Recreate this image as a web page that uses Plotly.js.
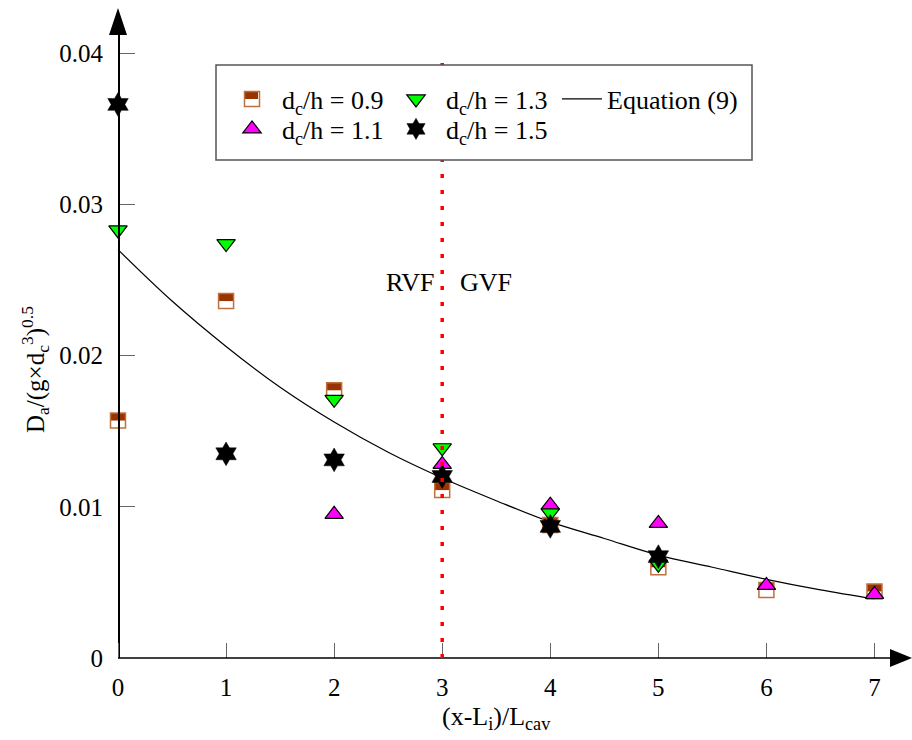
<!DOCTYPE html>
<html>
<head>
<meta charset="utf-8">
<script src="https://cdn.plot.ly/plotly-3.0.1.min.js"></script>
<style>html,body{margin:0;padding:0;background:#fff;}#chart{width:912px;height:740px;}</style>
</head>
<body>
<div id="chart"></div>
<script>
// ---- data ----
const xTicks = [0, 1, 2, 3, 4, 5, 6, 7];
const yTicks = [0, 0.01, 0.02, 0.03, 0.04];
const yTickText = ["0", "0.01", "0.02", "0.03", "0.04"];

const x09 = [0, 1, 2, 3, 4, 5, 6, 7];
const y09 = [0.0157, 0.0236, 0.0177, 0.0111, 0.0088, 0.0060, 0.0045, 0.0044];

const x11 = [2, 3, 4, 5, 6, 7];
const y11 = [0.0095, 0.0128, 0.0101, 0.0089, 0.0048, 0.0042];

const x13 = [0, 1, 2, 3, 4, 5];
const y13 = [0.0283, 0.0274, 0.0171, 0.0139, 0.0096, 0.0062];

const x15 = [0, 1, 2, 3, 4, 5];
const y15 = [0.0366, 0.0135, 0.0131, 0.0120, 0.0087, 0.0067];

const xEq = [0, 0.5, 1, 1.5, 2, 2.5, 3, 3.5, 4, 4.5, 5, 5.5, 6, 6.5, 7];
const yEq = [0.0270, 0.0236, 0.0206, 0.0179, 0.0156, 0.0136, 0.0119, 0.0104, 0.0090, 0.0079, 0.0068, 0.0060, 0.0052, 0.0045, 0.0039];

const names = ["d<sub>c</sub>/h = 0.9", "d<sub>c</sub>/h = 1.1", "d<sub>c</sub>/h = 1.3", "d<sub>c</sub>/h = 1.5", "Equation (9)"];
const regimeX = 3;

// ---- styling ----
const FONT = "Liberation Serif";
const BROWN = "#993300";
const BROWN_EDGE = "#c0703f";

const traces = [
  {x: xEq, y: yEq, mode: "lines", name: names[4], legend: "legend5",
   line: {color: "#000", width: 1.2, shape: "spline"}},
  {x: x09, y: y09, mode: "markers", name: names[0], legend: "legend", cliponaxis: false,
   marker: {symbol: "square-open", size: 15, color: BROWN_EDGE, line: {width: 1.5, color: BROWN_EDGE}}},
  {x: x11, y: y11, mode: "markers", name: names[1], legend: "legend2", cliponaxis: false,
   marker: {symbol: "triangle-up", size: 16, color: "#ff00ff", line: {width: 1.2, color: "#000"}}},
  {x: x13, y: y13, mode: "markers", name: names[2], legend: "legend3", cliponaxis: false,
   marker: {symbol: "triangle-down", size: 16, color: "#00ff00", line: {width: 1.2, color: "#000"}}},
  {x: x15, y: y15, mode: "markers", name: names[3], legend: "legend4", cliponaxis: false,
   marker: {symbol: "hexagram", size: 18, color: "#000", line: {width: 0.5, color: "#000"}}}
];

// plot area in pixels; x = 0 sits at pixel 118, 108.07 px per unit, 15125 px per unit of y
const PL = 100, PR = 890, T = 35, B = 658, X0PX = 118;
const W = PR - PL, H = B - T;
const XS = 108.07, YS = 15125;
const px = v => (v - PL) / W;
const py = v => (B - v) / H;

const shapes = [];
// half-filled squares for the d_c/h = 0.9 series
x09.forEach((xv, i) => {
  shapes.push({type: "rect", layer: "between", xref: "x", yref: "y", xsizemode: "pixel", ysizemode: "pixel",
    xanchor: xv, yanchor: y09[i], x0: -7.5, x1: 7.5, y0: -7.5, y1: 7.5, fillcolor: "#fff", line: {width: 0}});
  shapes.push({type: "rect", layer: "between", xref: "x", yref: "y", xsizemode: "pixel", ysizemode: "pixel",
    xanchor: xv, yanchor: y09[i], x0: -7.5, x1: 7.5, y0: 0, y1: 7.5, fillcolor: BROWN, line: {width: 0}});
});
// x axis line starting at x = 0
shapes.push({type: "line", layer: "above", xref: "x", yref: "paper", x0: 0, x1: (PR - X0PX) / XS, y0: 0, y1: 0,
  line: {color: "#000", width: 1.5}});
// RVF / GVF boundary
shapes.push({type: "line", layer: "above", xref: "x", yref: "paper", x0: regimeX, x1: regimeX, y0: 0, y1: py(63),
  line: {color: "#ff0000", width: 3.5, dash: "4px,12px"}});
// legend box
shapes.push({type: "rect", layer: "above", xref: "paper", yref: "paper", x0: px(216), x1: px(752), y0: py(160), y1: py(65),
  fillcolor: "#fff", line: {color: "#555", width: 1.5}});
// legend half fill for 0.9
shapes.push({type: "rect", layer: "above", xref: "paper", yref: "paper", xsizemode: "pixel", ysizemode: "pixel",
  xanchor: px(251), yanchor: py(99), x0: -7, x1: 7, y0: 0, y1: 7, fillcolor: BROWN, line: {width: 0}});
// axis arrows
shapes.push({type: "path", layer: "above", xref: "paper", yref: "paper", xsizemode: "pixel", ysizemode: "pixel",
  xanchor: 1, yanchor: 0, path: "M0,-9 L22,0 L0,9 Z", fillcolor: "#000", line: {width: 0}});
shapes.push({type: "path", layer: "above", xref: "paper", yref: "paper", xsizemode: "pixel", ysizemode: "pixel",
  xanchor: px(X0PX), yanchor: 1, path: "M-9,0 L9,0 L0,27 Z", fillcolor: "#000", line: {width: 0}});

const legendBase = (xp, yp, iw) => ({x: px(xp), y: py(yp), xanchor: "left", yanchor: "middle",
  bgcolor: "rgba(0,0,0,0)", borderwidth: 0, itemwidth: iw, font: {family: FONT, size: 26, color: "#000"}});

const layout = {
  width: 912, height: 740,
  margin: {l: PL, r: 912 - PR, t: T, b: 740 - B},
  paper_bgcolor: "#fff", plot_bgcolor: "#fff",
  font: {family: FONT, size: 25, color: "#000"},
  showlegend: true,
  xaxis: {range: [(PL - X0PX) / XS, (PR - X0PX) / XS], tickvals: xTicks, ticks: "inside", ticklen: 15, tickcolor: "#666", tickwidth: 1,
    showline: false, showgrid: false, zeroline: false,
    tickfont: {family: FONT, size: 25, color: "#000"}, ticklabelstandoff: 12},
  yaxis: {range: [0, H / YS], anchor: "free", position: px(X0PX), tickvals: yTicks, ticktext: yTickText, ticks: "inside", ticklen: 15,
    tickcolor: "#666", tickwidth: 1, showline: true, linecolor: "#000", linewidth: 1.5, showgrid: false, zeroline: false,
    tickfont: {family: FONT, size: 25, color: "#000"}, ticklabelstandoff: 10},
  legend: legendBase(222, 99, 50),
  legend2: legendBase(222, 129, 50),
  legend3: legendBase(386, 99, 50),
  legend4: legendBase(386, 129, 50),
  legend5: legendBase(557, 99, 40),
  shapes: shapes,
  annotations: [
    {text: "RVF", xref: "x", yref: "paper", x: regimeX, y: py(282), xanchor: "right", yanchor: "middle", xshift: -5,
     showarrow: false, font: {family: FONT, size: 26, color: "#000"}},
    {text: "GVF", xref: "x", yref: "paper", x: regimeX, y: py(282), xanchor: "left", yanchor: "middle", xshift: 16,
     showarrow: false, font: {family: FONT, size: 26, color: "#000"}},
    {text: "(x-L<sub>i</sub>)/L<sub>cav</sub>", xref: "paper", yref: "paper", x: px(496), y: py(718), xanchor: "center", yanchor: "middle",
     showarrow: false, font: {family: FONT, size: 26, color: "#000"}},
    {text: "D<sub>a</sub>/(g×d<sub>c</sub><sup>3</sup>)<sup>0.5</sup>", xref: "paper", yref: "paper", x: px(35), y: py(370),
     xanchor: "center", yanchor: "middle", textangle: -90, showarrow: false, font: {family: FONT, size: 25, color: "#000"}}
  ]
};

Plotly.newPlot("chart", traces, layout, {displayModeBar: false, staticPlot: true});
</script>
</body>
</html>
